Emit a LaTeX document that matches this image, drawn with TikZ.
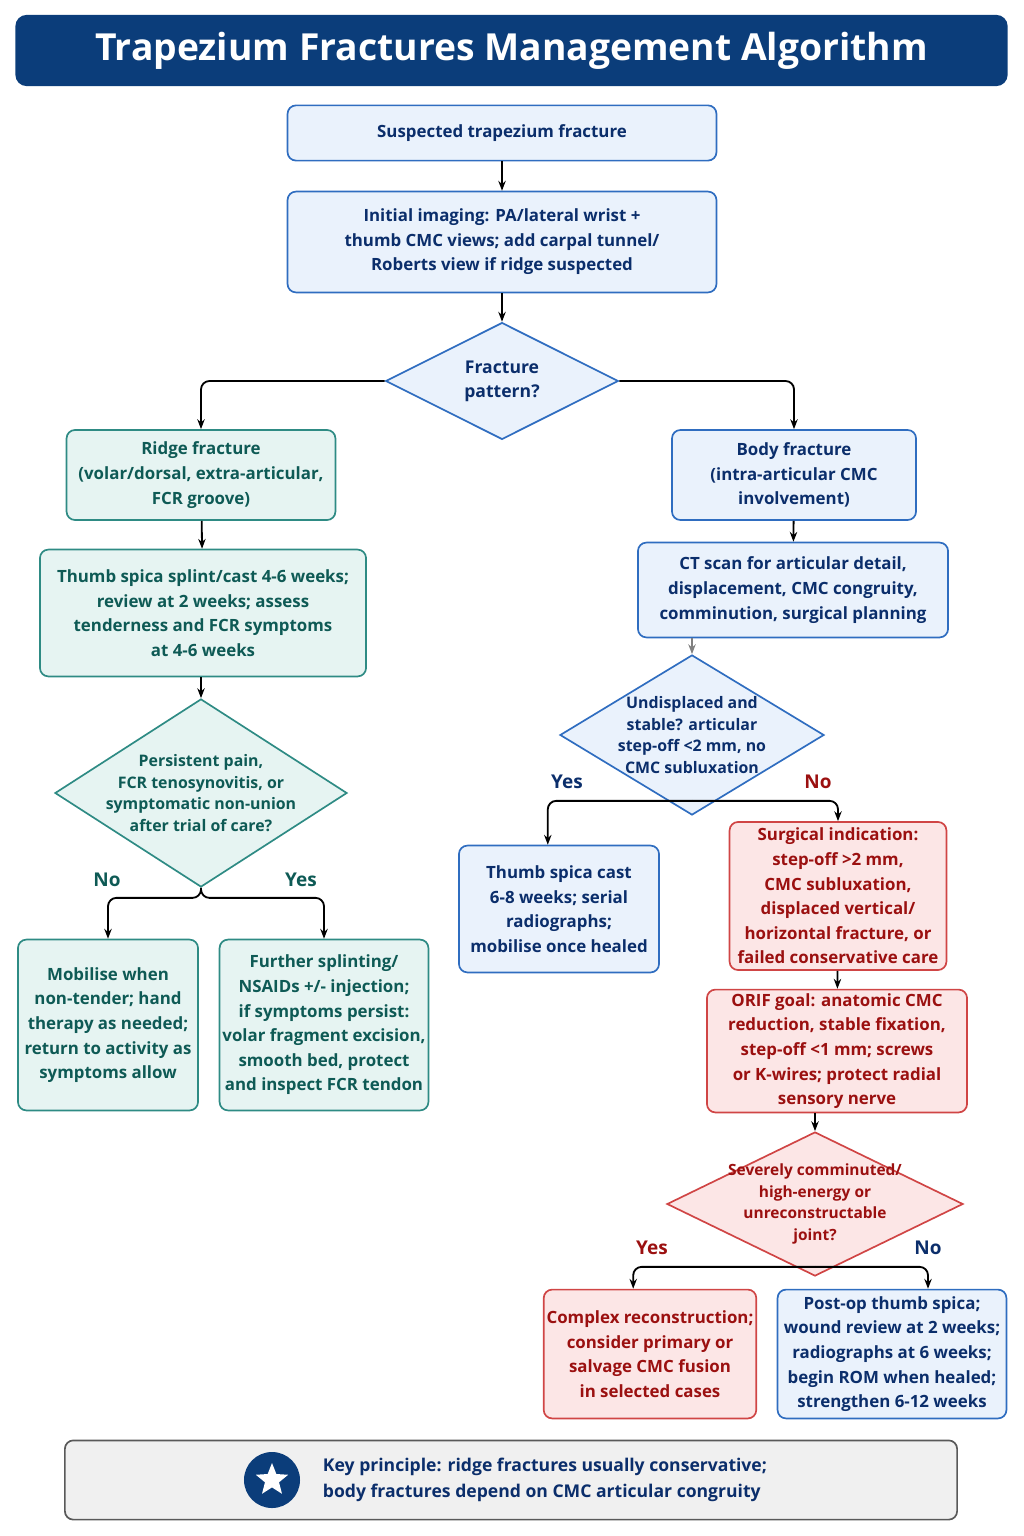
\documentclass[tikz,border=0pt]{standalone}
\usepackage{fontspec}
\setmainfont{Open Sans}
\usetikzlibrary{shapes.geometric,arrows.meta}
\definecolor{navy}{HTML}{0B3D7A}
\definecolor{bluefill}{HTML}{EAF2FC}
\definecolor{blueline}{HTML}{2F6DC0}
\definecolor{bluetext}{HTML}{0B2E6B}
\definecolor{tealfill}{HTML}{E6F4F2}
\definecolor{tealline}{HTML}{2E8B84}
\definecolor{tealtext}{HTML}{0E5A55}
\definecolor{redfill}{HTML}{FCE6E6}
\definecolor{redline}{HTML}{D04545}
\definecolor{redtext}{HTML}{9B1010}
\begin{document}
\begin{tikzpicture}[x=0.025cm, y=-0.025cm,
	box/.style = {draw, rounded corners=6pt, line width=1.2pt, align=center, inner sep=2pt,
		font=\bfseries\fontsize{12}{17.5}\selectfont},
	bluebox/.style = {box, fill=bluefill, draw=blueline, text=bluetext},
	tealbox/.style = {box, fill=tealfill, draw=tealline, text=tealtext},
	redbox/.style = {box, fill=redfill, draw=redline, text=redtext},
	dia/.style = {diamond, draw, line width=1.2pt, inner sep=0pt},
	diatext/.style = {align=center, inner sep=0pt, font=\bfseries\fontsize{11.3}{15.5}\selectfont},
	arr/.style = {-{Stealth[length=7pt]}, line width=1.3pt, rounded corners=6pt},
	lbl/.style = {font=\bfseries\fontsize{13.5}{16}\selectfont}]
	\useasboundingbox (0,0) rectangle (1024,1536);
	
	% title
	\node [fill=navy, rounded corners=8pt, minimum width=24.8cm, minimum height=1.78cm,
		text=white, font=\bfseries\fontsize{26.5}{30}\selectfont] (title) at (511.5,50.5)
		{Trapezium Fractures Management Algorithm};
	
	% top
	\node [bluebox, minimum width=10.72cm, minimum height=1.38cm] (susp) at (502,133) {Suspected trapezium fracture};
	\node [bluebox, minimum width=10.72cm, minimum height=2.52cm] (imag) at (502,242)
		{Initial imaging: PA/lateral wrist +\\thumb CMC views; add carpal tunnel/\\Roberts view if ridge suspected};
	\node [dia, fill=bluefill, draw=blueline, minimum width=5.82cm, minimum height=2.92cm] (patt) at (502,381) {};
	\node [diatext, text=bluetext, font=\bfseries\fontsize{12.5}{17}\selectfont] (patttxt) at (patt) {Fracture\\pattern?};
	
	% ridge branch
	\node [tealbox, minimum width=6.72cm, minimum height=2.25cm] (ridge) at (201,475)
		{Ridge fracture\\(volar/dorsal, extra-articular,\\FCR groove)};
	\node [tealbox, minimum width=8.15cm, minimum height=3.17cm] (splint) at (203,613)
		{Thumb spica splint/cast 4-6 weeks;\\review at 2 weeks; assess\\tenderness and FCR symptoms\\at 4-6 weeks};
	\node [dia, fill=tealfill, draw=tealline, minimum width=7.3cm, minimum height=4.7cm] (pain) at (201,793) {};
	\node [diatext, text=tealtext] (paintxt) at (pain) {Persistent pain,\\FCR tenosynovitis, or\\symptomatic non-union\\after trial of care?};
	\node [tealbox, minimum width=4.5cm, minimum height=4.27cm] (mob) at (108,1025)
		{Mobilise when\\non-tender; hand\\therapy as needed;\\return to activity as\\symptoms allow};
	\node [tealbox, minimum width=5.12cm, minimum height=4.27cm] (further) at (324,1025)
		{Further splinting/\\NSAIDs +/- injection;\\if symptoms persist:\\volar fragment excision,\\smooth bed, protect\\and inspect FCR tendon};
	
	% body branch
	\node [bluebox, minimum width=6.1cm, minimum height=2.25cm] (body) at (794,475)
		{Body fracture\\(intra-articular CMC\\involvement)};
	\node [bluebox, minimum width=7.75cm, minimum height=2.37cm] (ct) at (793,590)
		{CT scan for articular detail,\\displacement, CMC congruity,\\comminution, surgical planning};
	\node [dia, fill=bluefill, draw=blueline, minimum width=6.6cm, minimum height=4cm] (undisp) at (692,735) {};
	\node [diatext, text=bluetext] (undisptxt) at (undisp) {Undisplaced and\\stable? articular\\step-off <2 mm, no\\CMC subluxation};
	\node [bluebox, minimum width=5cm, minimum height=3.17cm] (cast) at (559,909)
		{Thumb spica cast\\6-8 weeks; serial\\radiographs;\\mobilise once healed};
	\node [redbox, minimum width=5.42cm, minimum height=3.7cm] (surg) at (838,896)
		{Surgical indication:\\step-off >2 mm,\\CMC subluxation,\\displaced vertical/\\horizontal fracture, or\\failed conservative care};
	\node [redbox, minimum width=6.5cm, minimum height=3.07cm] (orif) at (837,1051)
		{ORIF goal: anatomic CMC\\reduction, stable fixation,\\step-off <1 mm; screws\\or K-wires; protect radial\\sensory nerve};
	\node [dia, fill=redfill, draw=redline, minimum width=7.4cm, minimum height=3.6cm] (comm) at (815,1204) {};
	\node [diatext, text=redtext, font=\bfseries\fontsize{11}{15.5}\selectfont] (commtxt) at (comm) {Severely comminuted/\\high-energy or\\unreconstructable\\joint?};
	\node [redbox, minimum width=5.17cm, minimum height=3.22cm] (complex) at (650,1354)
		{Complex reconstruction;\\consider primary or\\salvage CMC fusion\\in selected cases};
	\node [bluebox, minimum width=5.72cm, minimum height=3.22cm] (postop) at (892,1354)
		{Post-op thumb spica;\\wound review at 2 weeks;\\radiographs at 6 weeks;\\begin ROM when healed;\\strengthen 6-12 weeks};
	
	% key principle
	\node [box, fill=gray!12, draw=gray!70!black, minimum width=22.3cm, minimum height=1.98cm] (key) at (511,1480) {};
	\node [text=bluetext, align=left, font=\bfseries\fontsize{12.5}{18.5}\selectfont] (keytxt) at (545,1480)
		{Key principle: ridge fractures usually conservative;\\body fractures depend on CMC articular congruity};
	\node [circle, fill=navy, minimum size=1.4cm] (badge) at (272,1480) {};
	\node [star, star points=5, star point ratio=2.3, fill=white, minimum size=0.85cm, inner sep=0pt] (starico) at (badge) {};
	
	% connectors
	\draw [arr] (susp) -- (imag);
	\draw [arr] (imag) -- (patt);
	\draw [arr] (patt.west) -| (ridge.north);
	\draw [arr] (patt.east) -| (body.north);
	\draw [arr] (ridge) -- (splint);
	\draw [arr] (splint.south -| pain.north) -- (pain.north);
	\draw [arr] (pain.south) -- ++(0,10) -| (mob.north);
	\draw [arr] (pain.south) -- ++(0,10) -| (further.north);
	\draw [arr] (body) -- (ct);
	\draw [arr, gray] (ct.south -| undisp.north) -- (undisp.north);
	\draw [arr] ([yshift=0.375cm]undisp.south) -| ([xshift=-0.28cm]cast.north);
	\draw [arr] ([yshift=0.375cm]undisp.south) -| (surg.north);
	\draw [arr] (surg) -- (orif);
	\draw [arr] (orif.south -| comm.north) -- (comm.north);
	\draw [arr] ([yshift=0.25cm]comm.south) -| ([xshift=-0.42cm]complex.north);
	\draw [arr] ([yshift=0.25cm]comm.south) -| ([xshift=0.9cm]postop.north);
	
	% labels
	\node [lbl, text=tealtext] (lno1) at (107,880) {No};
	\node [lbl, text=tealtext] (lyes1) at (301,880) {Yes};
	\node [lbl, text=bluetext] (lyes2) at (567,782) {Yes};
	\node [lbl, text=redtext] (lno2) at (818,782) {No};
	\node [lbl, text=redtext] (lyes3) at (652,1248) {Yes};
	\node [lbl, text=bluetext] (lno3) at (928,1248) {No};
\end{tikzpicture}
\end{document}
